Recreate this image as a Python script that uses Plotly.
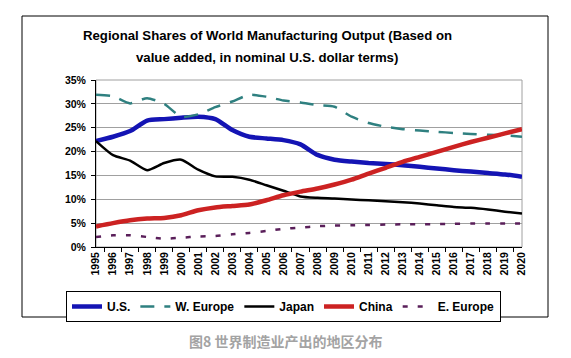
import plotly.graph_objects as go

years = [str(y) for y in range(1995, 2021)]
us = [22.2, 23.1, 24.3, 26.5, 26.8, 27.1, 27.3, 26.8, 24.5, 23.1, 22.75, 22.4, 21.5,
      19.3, 18.3, 17.9, 17.6, 17.4, 17.15, 16.8, 16.45, 16.1, 15.8, 15.5, 15.2, 14.7]
w_europe = [31.9, 31.6, 30.1, 31.2, 30.0, 27.3, 27.8, 29.3, 30.5, 31.9, 31.5, 30.7, 30.3,
            29.75, 29.4, 27.3, 26.0, 25.2, 24.7, 24.4, 24.15, 23.9, 23.7, 23.5, 23.4, 23.1]
japan = [22.2, 19.25, 18.1, 16.1, 17.6, 18.3, 16.2, 14.8, 14.7, 14.1, 12.95, 11.8, 10.6,
         10.3, 10.15, 9.95, 9.8, 9.6, 9.4, 9.1, 8.75, 8.4, 8.2, 7.85, 7.4, 7.0]
china = [4.3, 5.0, 5.6, 5.95, 6.1, 6.65, 7.7, 8.3, 8.6, 8.9, 9.8, 10.85, 11.6,
         12.25, 13.1, 14.1, 15.4, 16.6, 17.85, 18.9, 19.95, 21.0, 22.0, 22.9, 23.8, 24.7]
e_europe = [2.1, 2.45, 2.45, 2.1, 1.75, 1.95, 2.2, 2.3, 2.65, 2.95, 3.35, 3.8, 4.05,
            4.35, 4.5, 4.55, 4.6, 4.7, 4.75, 4.75, 4.8, 4.85, 4.9, 4.9, 4.9, 4.9]
names = ["U.S.", "W. Europe", "Japan", "China", "E. Europe"]
title_lines = ["Regional Shares of World Manufacturing Output (Based on",
               "value added, in nominal U.S. dollar terms)"]
caption = "图8 世界制造业产出的地区分布"

colors = ["#1414b4", "#2f8080", "#000000", "#cc2222", "#5a1f5a"]
widths = [4.5, 2.5, 2.5, 4.5, 2.5]
dashes = [None, "14px,10px", None, None, "5px,10px"]

FONT = "Arial, Liberation Sans, sans-serif"
OFF = 8  # page body margin
W, H = 571, 358
L, R, T, B = 96, 522, 80, 247  # plot area, screen px


def px(x):
    return (x - OFF) / W


def py(y):
    return 1 - (y - OFF) / H


fig = go.Figure()
for name, vals, c, w, d in zip(names, [us, w_europe, japan, china, e_europe],
                               colors, widths, dashes):
    line = dict(color=c, width=w, shape="spline", smoothing=0.6)
    if d:
        line["dash"] = d
    fig.add_trace(go.Scatter(x=years, y=[v / 100 for v in vals], name=name,
                             mode="lines", line=line, showlegend=True))

shapes = [
    dict(type="rect", xref="paper", yref="paper", x0=px(22), x1=px(548),
         y0=py(16), y1=py(317), line=dict(color="black", width=1), layer="below"),
    dict(type="rect", xref="paper", yref="paper", x0=px(L), x1=px(R),
         y0=py(B), y1=py(T), line=dict(color="#a0a0a0", width=1), layer="below"),
]

annotations = [
    dict(text=title_lines[0], xref="paper", yref="paper", x=px(267.5), y=py(35.5),
         xanchor="center", yanchor="middle", showarrow=False,
         font=dict(size=13.2, family=FONT, weight="bold", color="black")),
    dict(text=title_lines[1], xref="paper", yref="paper", x=px(267), y=py(57),
         xanchor="center", yanchor="middle", showarrow=False,
         font=dict(size=13.2, family=FONT, weight="bold", color="black")),
    dict(text=caption, xref="paper", yref="paper",
         x=px(285), y=py(340.5), xanchor="center", yanchor="middle", showarrow=False,
         font=dict(size=14, family="Noto Sans CJK SC", weight="bold", color="#a3a3a3")),
]

fig.update_layout(
    width=W, height=H,
    margin=dict(l=0, r=0, t=0, b=0, autoexpand=False),
    paper_bgcolor="white", plot_bgcolor="white",
    font=dict(family=FONT, color="black"),
    showlegend=True,
    legend=dict(orientation="h", x=px(66), y=py(291), xanchor="left", yanchor="top",
                bordercolor="black", borderwidth=1, bgcolor="white",
                font=dict(size=12, family=FONT, weight="bold", color="black"),
                tracegroupgap=0, itemwidth=30),
    xaxis=dict(type="category", tickson="boundaries", ticks="outside", ticklen=4,
               domain=[px(L), px(R)], automargin=False,
               tickcolor="black", showline=True, linecolor="black", linewidth=1,
               showgrid=False, tickangle=-90,
               tickfont=dict(size=10.5, family=FONT, weight="bold")),
    yaxis=dict(range=[0, 0.35], dtick=0.05, tickformat=".0%", ticks="outside",
               domain=[py(B), py(T)], automargin=False,
               ticklen=4, tickcolor="black", showline=True, linecolor="black",
               linewidth=1, showgrid=True, gridcolor="#a0a0a0", gridwidth=1,
               zeroline=False, ticklabelstandoff=3,
               tickfont=dict(size=10.5, family=FONT, weight="bold")),
    shapes=shapes,
    annotations=annotations,
)

fig.write_html("out.html")
